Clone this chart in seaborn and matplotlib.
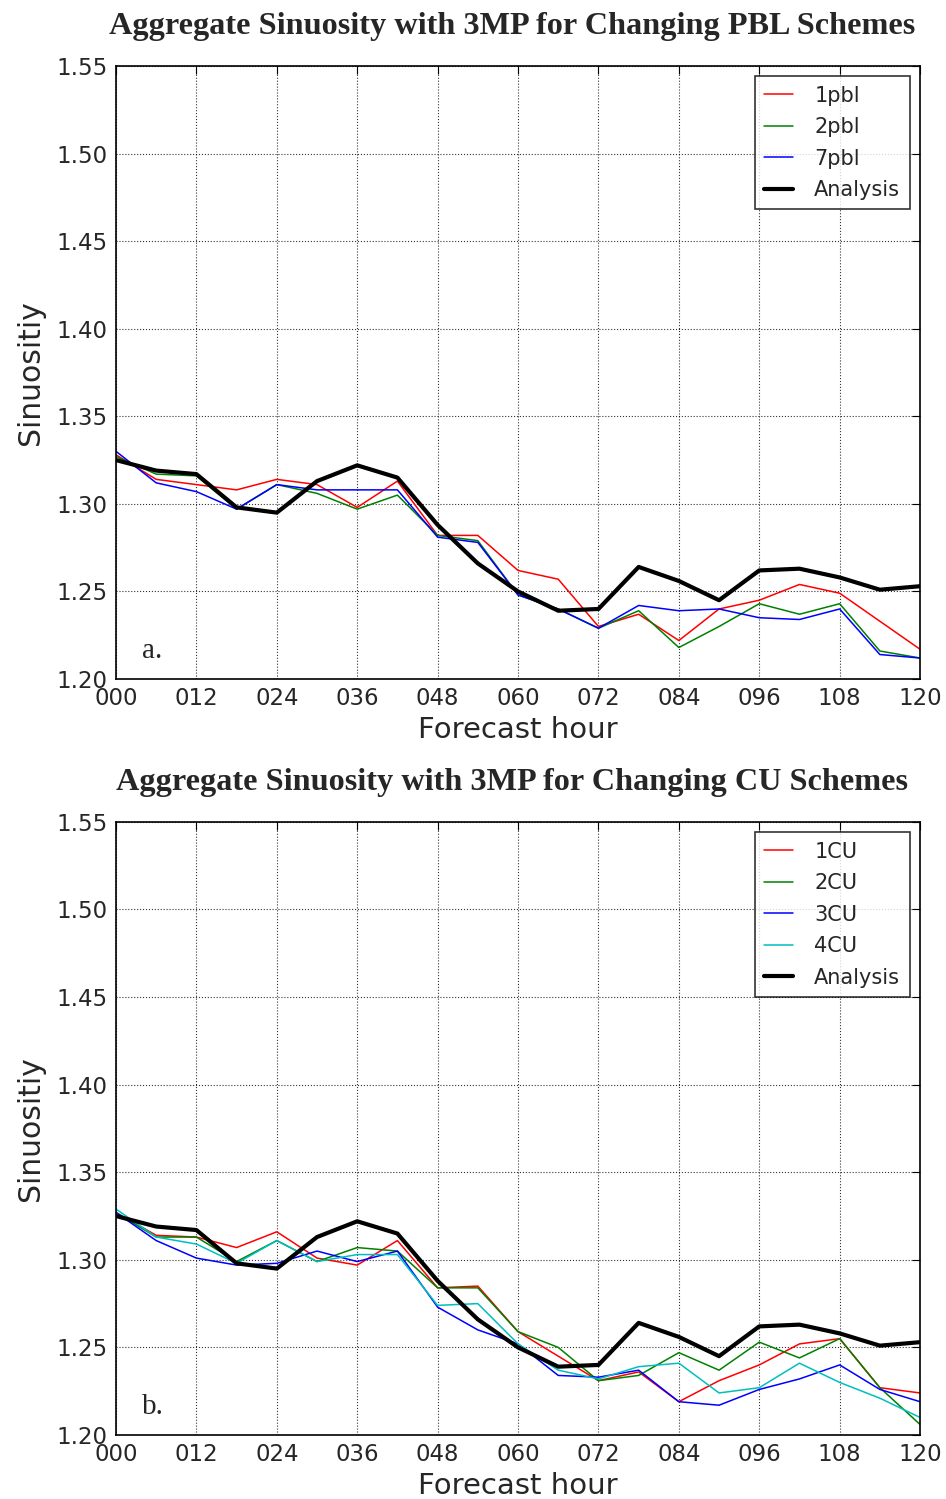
import numpy as np
import pandas as pd
import matplotlib
matplotlib.use("Agg")
import matplotlib.pyplot as plt
import seaborn as sns

hours = list(range(0, 121, 6))
xtick_vals = list(range(0, 121, 12))
xtick_labels = ["000", "012", "024", "036", "048", "060", "072", "084", "096", "108", "120"]
ytick_vals = [1.20, 1.25, 1.30, 1.35, 1.40, 1.45, 1.50, 1.55]

analysis = [1.325, 1.319, 1.317, 1.298, 1.295, 1.313, 1.322, 1.315, 1.288, 1.266, 1.250,
            1.239, 1.240, 1.264, 1.256, 1.245, 1.262, 1.263, 1.258, 1.251, 1.253]

# Panel a: PBL schemes
pbl1 = [1.328, 1.314, 1.311, 1.308, 1.314, 1.311, 1.298, 1.313, 1.282, 1.282, 1.262,
        1.257, 1.230, 1.237, 1.222, 1.240, 1.245, 1.254, 1.249, 1.233, 1.217]
pbl2 = [1.327, 1.317, 1.316, 1.297, 1.311, 1.306, 1.297, 1.305, 1.282, 1.279, 1.248,
        1.240, 1.229, 1.239, 1.218, 1.230, 1.243, 1.237, 1.243, 1.216, 1.212]
pbl7 = [1.330, 1.312, 1.307, 1.297, 1.311, 1.308, 1.308, 1.308, 1.281, 1.278, 1.248,
        1.240, 1.229, 1.242, 1.239, 1.240, 1.235, 1.234, 1.240, 1.214, 1.212]

# Panel b: CU schemes
cu1 = [1.327, 1.314, 1.313, 1.307, 1.316, 1.301, 1.297, 1.311, 1.284, 1.285, 1.259,
       1.245, 1.231, 1.236, 1.219, 1.231, 1.240, 1.252, 1.255, 1.227, 1.224]
cu2 = [1.327, 1.313, 1.313, 1.299, 1.311, 1.299, 1.307, 1.305, 1.284, 1.284, 1.259,
       1.250, 1.231, 1.234, 1.247, 1.237, 1.253, 1.244, 1.255, 1.227, 1.206]
cu3 = [1.327, 1.311, 1.301, 1.297, 1.298, 1.305, 1.299, 1.305, 1.273, 1.260, 1.252,
       1.234, 1.233, 1.237, 1.219, 1.217, 1.226, 1.232, 1.240, 1.226, 1.219]
cu4 = [1.329, 1.313, 1.309, 1.298, 1.311, 1.299, 1.303, 1.303, 1.274, 1.275, 1.252,
       1.237, 1.232, 1.239, 1.241, 1.224, 1.227, 1.241, 1.230, 1.221, 1.210]

titles = ["Aggregate Sinuosity with 3MP for Changing PBL Schemes",
          "Aggregate Sinuosity with 3MP for Changing CU Schemes"]
panel_labels = ["a.", "b."]

sns.set_style("white")
plt.rcParams["font.family"] = ["DejaVu Sans"]

def long_df(series):
    rows = []
    for name, vals in series.items():
        for h, v in zip(hours, vals):
            rows.append({"hour": h, "value": v, "run": name})
    return pd.DataFrame(rows)

panels = [
    ({"1pbl": pbl1, "2pbl": pbl2, "7pbl": pbl7, "Analysis": analysis},
     {"1pbl": "#ff0000", "2pbl": "#008000", "7pbl": "#0000ff", "Analysis": "#000000"}),
    ({"1CU": cu1, "2CU": cu2, "3CU": cu3, "4CU": cu4, "Analysis": analysis},
     {"1CU": "#ff0000", "2CU": "#008000", "3CU": "#0000ff", "4CU": "#00bfbf", "Analysis": "#000000"}),
]

fig = plt.figure(figsize=(9.46, 14.99), dpi=100)
ax_rects = [[0.1226, 0.547, 0.85, 0.409], [0.1226, 0.0427, 0.85, 0.409]]
title_y = [0.982, 0.478]

for i, ((series, pal), rect) in enumerate(zip(panels, ax_rects)):
    ax = fig.add_axes(rect)
    df = long_df(series)
    names = list(series.keys())
    sizes = {n: (3.0 if n == "Analysis" else 1.1) for n in names}
    sns.lineplot(data=df, x="hour", y="value", hue="run", hue_order=names,
                 palette=pal, size="run", sizes=sizes, size_order=names,
                 ax=ax, estimator=None, legend=False)
    ax.set_xlim(0, 120)
    ax.set_ylim(1.20, 1.55)
    ax.set_xticks(xtick_vals)
    ax.set_xticklabels(xtick_labels)
    ax.set_yticks(ytick_vals)
    ax.set_yticklabels([f"{v:.2f}" for v in ytick_vals])
    ax.tick_params(axis="both", labelsize=16.5, direction="in", length=6,
                   top=True, right=True, color="black", pad=6)
    ax.grid(True, linestyle=":", color="black", linewidth=0.8, alpha=0.8)
    for sp in ax.spines.values():
        sp.set_color("black")
        sp.set_linewidth(1.2)
    ax.set_xlabel("Forecast hour", fontsize=21, labelpad=4)
    ax.set_ylabel("Sinuositiy", fontsize=21.5, labelpad=8)
    fig.text(0.541, title_y[i], titles[i], ha="center", va="center",
             fontsize=23.2, fontweight="bold", family="Liberation Serif")
    ax.text(0.032, 0.025, panel_labels[i], transform=ax.transAxes,
            fontsize=21, family="Liberation Serif", ha="left", va="bottom")
    handles = [plt.Line2D([], [], color=pal[n], lw=sizes[n]) for n in names]
    leg = ax.legend(handles, names, loc="upper right", fontsize=15,
                    frameon=True, fancybox=False, handlelength=1.4,
                    handletextpad=1.0, borderpad=0.45, labelspacing=0.55,
                    borderaxespad=0.5)
    leg.get_frame().set_edgecolor("black")
    leg.get_frame().set_linewidth(1.2)

fig.savefig("out.png", dpi=100)
